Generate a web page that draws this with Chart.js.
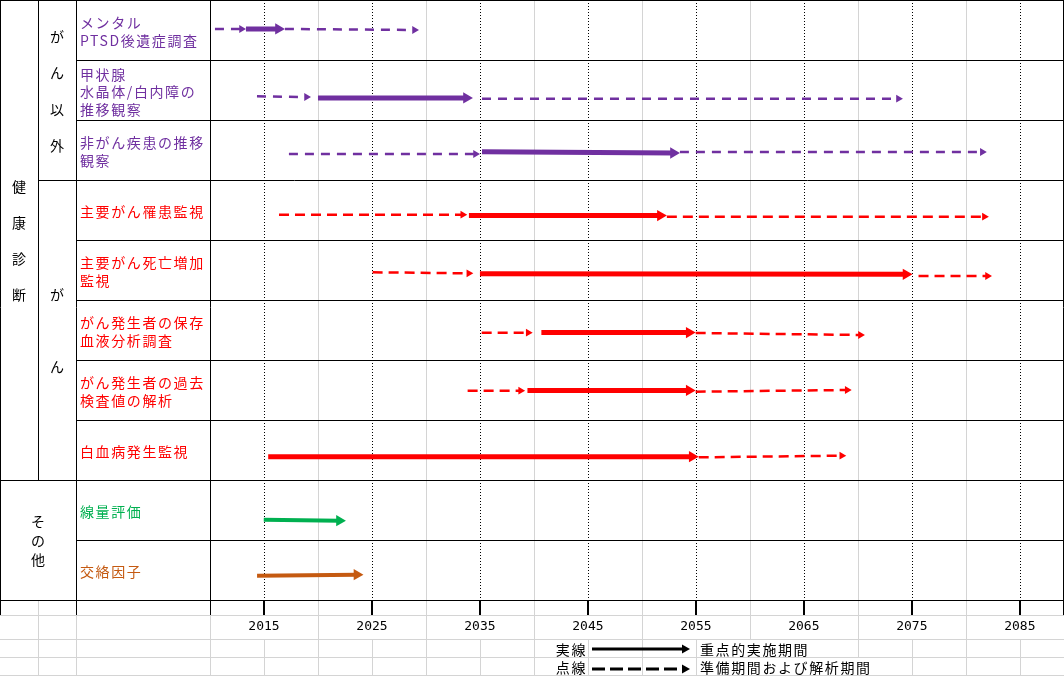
<!DOCTYPE html>
<html>
<head>
<meta charset="utf-8">
<script src="https://cdn.jsdelivr.net/npm/chart.js@4.4.1/dist/chart.umd.min.js"></script>
<style>
    body { margin: 0; background: #fff; }
    #wrap { width: 1064px; height: 676px; }
</style>
</head>
<body>
<div id="wrap"><canvas id="chart" width="1064" height="676"></canvas></div>
<script>
// row titles (one entry per table row, lines of the cell)
const rowLabels = [
    ["メンタル", "PTSD後遺症調査"],
    ["甲状腺", "水晶体/白内障の", "推移観察"],
    ["非がん疾患の推移", "観察"],
    ["主要がん罹患監視"],
    ["主要がん死亡増加", "監視"],
    ["がん発生者の保存", "血液分析調査"],
    ["がん発生者の過去", "検査値の解析"],
    ["白血病発生監視"],
    ["線量評価"],
    ["交絡因子"]
];

// grouping columns on the left
const groupText = ["健康診断", "がん以外", "がん", "その他"];
const groupRows = [[0, 8], [0, 3], [3, 8], [8, 10]];

// year axis
const tickYears = [2015, 2025, 2035, 2045, 2055, 2065, 2075, 2085];
const cellYears = [2015, 2020, 2025, 2030, 2035, 2040, 2045, 2050, 2055, 2060, 2065, 2070, 2075, 2080, 2085];

// arrows: row, phase, start year, end year, y start, y end
const segRow = [0, 0, 0, 1, 1, 1, 2, 2, 2, 3, 3, 3, 4, 4, 4, 5, 5, 5, 6, 6, 6, 7, 7, 8, 9];
const segPhase = ["prep", "focus", "prep", "prep", "focus", "prep", "prep", "focus", "prep",
    "prep", "focus", "prep", "prep", "focus", "prep", "prep", "focus", "prep",
    "prep", "focus", "prep", "focus", "prep", "focus", "focus"];
const segStart = [2010.46, 2013.33, 2016.94, 2014.35, 2020.0, 2035.19, 2017.31, 2035.19, 2053.52,
    2016.39, 2033.98, 2052.31, 2025.06, 2035.0, 2075.62, 2035.16, 2040.69, 2054.98,
    2033.86, 2039.4, 2054.98, 2015.39, 2055.26, 2014.98, 2014.36];
const segEnd = [2012.92, 2016.34, 2028.94, 2018.94, 2033.75, 2073.76, 2034.59, 2052.92, 2081.53,
    2033.41, 2051.71, 2081.72, 2033.97, 2074.46, 2082.01, 2039.47, 2054.38, 2070.24,
    2038.77, 2054.38, 2069.01, 2054.66, 2068.51, 2021.99, 2023.61];
const segYStart = [0.483, 0.483, 0.483, 1.605, 1.633, 1.645, 2.567, 2.528, 2.533,
    3.578, 3.592, 3.612, 4.538, 4.562, 4.6, 5.545, 5.542, 5.55,
    6.512, 6.508, 6.528, 7.612, 7.622, 8.662, 9.595];
const segYEnd = [0.483, 0.483, 0.5, 1.617, 1.633, 1.645, 2.567, 2.55, 2.533,
    3.578, 3.592, 3.612, 4.555, 4.572, 4.6, 5.545, 5.542, 5.583,
    6.512, 6.508, 6.5, 7.612, 7.595, 8.678, 9.578];

// legend texts
const legendLeft = ["実線", "点線"];
const legendRight = ["重点的実施期間", "準備期間および解析期間"];

// styles
const PURPLE = "#7030A0", RED = "#FF0000", GREEN = "#00B050", ORANGE = "#C55A11";
const rowColor = [PURPLE, PURPLE, PURPLE, RED, RED, RED, RED, RED, GREEN, ORANGE];
const groupX = [19, 57, 57, 38];
const groupStep = [36, 36.5, 72, 19];
const JP = '14px "Noto Sans CJK JP"';
const GRAY = "#d4d4d4";

function line(ctx, x1, y1, x2, y2) {
    ctx.moveTo(x1, y1);
    ctx.lineTo(x2, y2);
}

const sheetPlugin = {
    id: "sheet",
    beforeDraw(chart) {
        const ctx = chart.ctx;
        ctx.save();
        ctx.fillStyle = "#fff";
        ctx.fillRect(0, 0, chart.width, chart.height);
        ctx.restore();
    },
    beforeDatasetsDraw(chart) {
        const ctx = chart.ctx;
        const xs = chart.scales.x, ys = chart.scales.y;
        const area = chart.chartArea;
        const W = chart.width, H = chart.height;
        ctx.save();

        // spreadsheet cell borders (light gray)
        ctx.strokeStyle = GRAY;
        ctx.lineWidth = 1;
        ctx.beginPath();
        cellYears.forEach(function (yr) {
            const px = Math.round(xs.getPixelForValue(yr)) + 0.5;
            if (tickYears.indexOf(yr) >= 0) {
                line(ctx, px, 639, px, H);
            } else {
                line(ctx, px, 0, px, H);
            }
        });
        [38, 76, 210].forEach(function (x) {
            line(ctx, x + 0.5, 600, x + 0.5, H);
        });
        [615, 639, 657, 675].forEach(function (y) {
            line(ctx, 0, y + 0.5, W, y + 0.5);
        });
        ctx.stroke();

        // dotted year lines
        ctx.strokeStyle = "#000";
        ctx.setLineDash([1, 2]);
        ctx.beginPath();
        tickYears.forEach(function (yr) {
            const px = Math.round(xs.getPixelForValue(yr)) + 0.5;
            line(ctx, px, area.top, px, area.bottom);
        });
        ctx.stroke();
        ctx.setLineDash([]);

        // table borders
        const rowY = function (r) { return Math.round(ys.getPixelForValue(r)) + 0.5; };
        const left = Math.round(area.left) + 0.5;
        ctx.beginPath();
        line(ctx, 0, 0.5, W, 0.5);
        for (let r = 1; r <= 10; r++) {
            let x0 = 76;
            if (r === 3) x0 = 38;
            if (r === 8 || r === 10) x0 = 0;
            line(ctx, x0, rowY(r), W, rowY(r));
        }
        line(ctx, 0.5, 0, 0.5, 615);
        line(ctx, 38.5, 0, 38.5, rowY(8));
        line(ctx, 76.5, 0, 76.5, 615);
        line(ctx, left, 0, left, 615);
        line(ctx, W - 0.5, 0, W - 0.5, 615);
        tickYears.forEach(function (yr) {
            const px = Math.round(xs.getPixelForValue(yr)) + 0.5;
            line(ctx, px, 600, px, 615);
        });
        ctx.stroke();

        // row titles
        ctx.font = JP;
        ctx.letterSpacing = "1.6px";
        ctx.textBaseline = "middle";
        ctx.textAlign = "left";
        rowLabels.forEach(function (lines, r) {
            const yc = ys.getPixelForValue(r + 0.5) + 2;
            const step = lines.length > 2 ? 17.5 : 18;
            ctx.fillStyle = rowColor[r];
            lines.forEach(function (t, i) {
                ctx.fillText(t, 80, yc + (i - (lines.length - 1) / 2) * step);
            });
        });

        // vertical group titles
        ctx.letterSpacing = "0px";
        ctx.textAlign = "center";
        ctx.fillStyle = "#000";
        groupText.forEach(function (t, g) {
            const yc = (ys.getPixelForValue(groupRows[g][0]) + ys.getPixelForValue(groupRows[g][1])) / 2 + 1;
            const chars = Array.from(t);
            chars.forEach(function (c, i) {
                ctx.fillText(c, groupX[g], yc + (i - (chars.length - 1) / 2) * groupStep[g]);
            });
        });
        ctx.restore();
    },
    afterDraw(chart) {
        const ctx = chart.ctx;
        ctx.save();
        ctx.font = JP;
        ctx.letterSpacing = "1.6px";
        ctx.textBaseline = "middle";
        const rowsTop = [639, 657];
        legendLeft.forEach(function (t, i) {
            const top = rowsTop[i];
            const ly = top + 10 + i * 2;
            const ty = top + 11;
            // label left of the arrow
            ctx.fillStyle = "#000";
            ctx.textAlign = "right";
            ctx.fillText(t, 587, ty);
            // description right of the arrow (hides the cell borders it spans)
            ctx.textAlign = "left";
            const w = ctx.measureText(legendRight[i]).width;
            ctx.fillStyle = "#fff";
            ctx.fillRect(699, top + 1, w + 2, 17);
            ctx.fillStyle = "#000";
            ctx.fillText(legendRight[i], 700, ty);
            // arrow sample
            ctx.strokeStyle = "#000";
            ctx.lineWidth = 3;
            ctx.setLineDash(i === 0 ? [] : [13, 5]);
            ctx.beginPath();
            line(ctx, 592, ly, 682, ly);
            ctx.stroke();
            ctx.setLineDash([]);
            ctx.beginPath();
            ctx.moveTo(690, ly);
            ctx.lineTo(682, ly - 4.5);
            ctx.lineTo(682, ly + 4.5);
            ctx.closePath();
            ctx.fill();
        });
        ctx.restore();
    }
};

const datasets = segRow.map(function (r, i) {
    const focus = segPhase[i] === "focus";
    const color = rowColor[r];
    return {
        data: [{ x: segStart[i], y: segYStart[i] }, { x: segEnd[i], y: segYEnd[i] }],
        borderColor: color,
        backgroundColor: color,
        borderWidth: focus ? (r >= 8 ? 4 : 5) : 2.5,
        borderDash: focus ? [] : (color === PURPLE ? [9, 7] : [10, 6]),
        pointStyle: "triangle",
        pointRotation: 90,
        pointRadius: [0, focus ? 6.5 : 4.5],
        pointHoverRadius: [0, focus ? 6.5 : 4.5],
        pointBorderWidth: 0,
        pointBackgroundColor: color,
        tension: 0
    };
});

new Chart(document.getElementById("chart"), {
    type: "line",
    data: { datasets: datasets },
    plugins: [sheetPlugin],
    options: {
        responsive: false,
        animation: false,
        events: [],
        layout: { autoPadding: false, padding: { left: 210, right: 1, top: 0, bottom: 0 } },
        plugins: {
            legend: { display: false },
            tooltip: { enabled: false }
        },
        scales: {
            x: {
                type: "linear",
                position: "bottom",
                min: 2010,
                max: 2089,
                afterBuildTicks: function (axis) {
                    axis.ticks = tickYears.map(function (v) { return { value: v }; });
                },
                afterFit: function (axis) {
                    axis.height = 76;
                },
                grid: {
                    drawOnChartArea: false,
                    drawTicks: true,
                    tickLength: 15,
                    tickColor: "#000",
                    tickWidth: 1
                },
                border: { display: false },
                ticks: {
                    padding: 3.5,
                    maxRotation: 0,
                    autoSkip: false,
                    color: "#000",
                    font: { family: "DejaVu Sans Mono", size: 13 },
                    callback: function (v) { return String(v); }
                }
            },
            y: {
                type: "linear",
                display: false,
                min: 0,
                max: 10,
                reverse: true
            }
        }
    }
});
</script>
</body>
</html>
